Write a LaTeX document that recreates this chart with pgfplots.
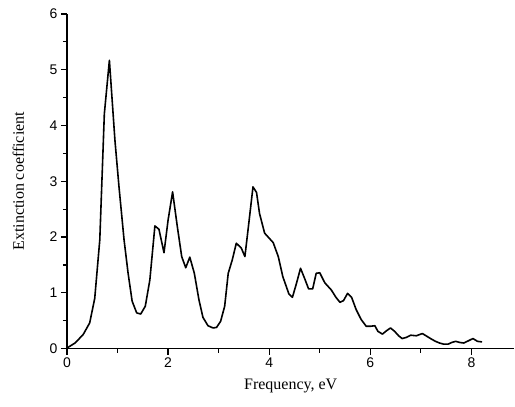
\documentclass[border=0pt]{standalone}
\usepackage{pgfplots}
\pgfplotsset{compat=1.18}
\usepackage{fontspec}
\setmainfont{Liberation Serif}
\setsansfont{Liberation Sans}
\begin{document}
\begin{tikzpicture}
\begin{axis}[
  scale only axis,
  width=448pt, height=335pt,
  at={(0,0)}, anchor=south west,
  xmin=0, xmax=8.85, ymin=0, ymax=6,
  axis x line*=bottom, axis y line*=left,
  axis line style={line width=1.2pt},
  xtick={0,2,4,6,8}, ytick={0,1,2,3,4,5,6},
  minor x tick num=1, minor y tick num=1,
  tick align=outside,
  major tick length=6pt, minor tick length=4pt,
  every tick/.style={line width=1.2pt, black},
  /pgf/number format/assume math mode=true,
  tick label style={font=\fontsize{14}{14}\sffamily},
  xlabel={Frequency, eV},
  ylabel={Extinction coefficient},
  label style={font=\fontsize{16}{16}\selectfont},
  xlabel style={at={(axis description cs:0.5,-0.1224)}, anchor=base},
  ylabel style={at={(axis description cs:-0.096,0.5)}, anchor=base},
  clip=false,
]
\addplot[black, line width=1.6pt, line join=round] coordinates {
(0,0.01) (0.16,0.10) (0.32,0.25) (0.45,0.46) (0.55,0.90) (0.65,1.95)
(0.74,4.21) (0.84,5.17) (0.95,3.73) (1.03,2.90) (1.13,1.95) (1.21,1.35)
(1.29,0.85) (1.38,0.64) (1.46,0.62) (1.55,0.76) (1.64,1.23) (1.74,2.20)
(1.82,2.14) (1.92,1.72) (2.00,2.30) (2.09,2.81) (2.18,2.21) (2.27,1.65)
(2.35,1.45) (2.43,1.64) (2.52,1.35) (2.61,0.88) (2.69,0.56) (2.79,0.41)
(2.89,0.37) (2.96,0.38) (3.04,0.49) (3.12,0.76) (3.19,1.35) (3.27,1.59)
(3.35,1.89) (3.45,1.80) (3.52,1.65) (3.60,2.27) (3.68,2.90) (3.75,2.80)
(3.81,2.42) (3.91,2.07) (4.00,1.98) (4.08,1.90) (4.18,1.65) (4.27,1.29)
(4.39,0.98) (4.46,0.92) (4.54,1.17) (4.62,1.44) (4.70,1.26) (4.78,1.07)
(4.86,1.07) (4.93,1.35) (5.00,1.36) (5.10,1.18) (5.23,1.05) (5.32,0.92)
(5.40,0.83) (5.47,0.86) (5.55,0.99) (5.63,0.92) (5.72,0.70) (5.82,0.52)
(5.92,0.40) (6.00,0.40) (6.09,0.41) (6.15,0.31) (6.24,0.26) (6.32,0.32)
(6.40,0.37) (6.48,0.31) (6.56,0.23) (6.63,0.18) (6.71,0.20) (6.80,0.24)
(6.91,0.23) (7.03,0.27) (7.12,0.22) (7.21,0.17) (7.29,0.13) (7.37,0.10)
(7.45,0.08) (7.54,0.08) (7.61,0.11) (7.69,0.13) (7.77,0.11) (7.85,0.10)
(7.94,0.14) (8.03,0.18) (8.12,0.13) (8.21,0.12)
};
\end{axis}
\path (-67pt,-58pt) rectangle (448pt,349pt);
\end{tikzpicture}
\end{document}
